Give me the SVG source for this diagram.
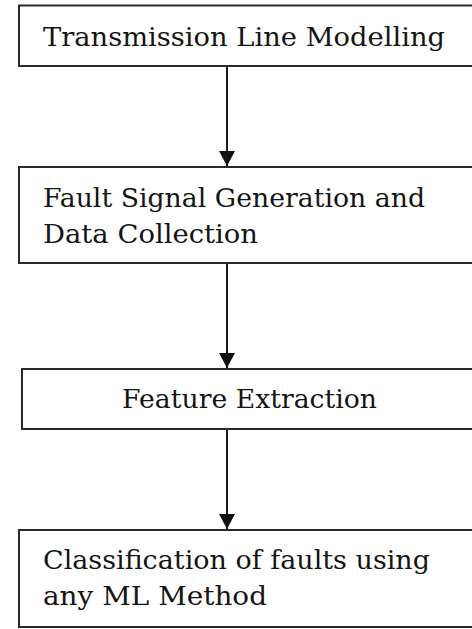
<svg xmlns="http://www.w3.org/2000/svg" width="472" height="629" viewBox="0 0 472 629">
<defs>
<style>
.box{fill:#fff;stroke:#2a2a2a;stroke-width:2}
.t{font-family:"DejaVu Serif","Liberation Serif",serif;font-size:26px;fill:#141414}
.c{stroke:#1a1a1a;stroke-width:2;fill:none}
</style>
<marker id="ah" markerWidth="15" markerHeight="16" refX="15" refY="8" orient="auto" markerUnits="userSpaceOnUse" viewBox="0 0 15 16">
<path d="M0,0 L15,8 L0,16 Z" fill="#111"/>
</marker>
</defs>
<rect width="472" height="629" fill="#fff"/>
<g id="connectors">
<line class="c" x1="227" y1="66" x2="227" y2="166" marker-end="url(#ah)"/>
<line class="c" x1="227" y1="263" x2="227" y2="368" marker-end="url(#ah)"/>
<line class="c" x1="227" y1="429" x2="227" y2="529" marker-end="url(#ah)"/>
</g>
<g id="n1">
<rect class="box" x="19" y="5.5" width="470" height="60.5"/>
<text class="t" x="43" y="46" textLength="402" lengthAdjust="spacingAndGlyphs">Transmission Line Modelling</text>
</g>
<g id="n2">
<rect class="box" x="19" y="167" width="470" height="96"/>
<text class="t" x="43" y="207" textLength="382" lengthAdjust="spacingAndGlyphs">Fault Signal Generation and</text>
<text class="t" x="43" y="243" textLength="215" lengthAdjust="spacingAndGlyphs">Data Collection</text>
</g>
<g id="n3">
<rect class="box" x="22" y="369" width="470" height="60"/>
<text class="t" x="122" y="408" textLength="255" lengthAdjust="spacingAndGlyphs">Feature Extraction</text>
</g>
<g id="n4">
<rect class="box" x="19" y="530" width="470" height="97"/>
<text class="t" x="43" y="569" textLength="387" lengthAdjust="spacingAndGlyphs">Classification of faults using</text>
<text class="t" x="43" y="605" textLength="224" lengthAdjust="spacingAndGlyphs">any ML Method</text>
</g>
</svg>
